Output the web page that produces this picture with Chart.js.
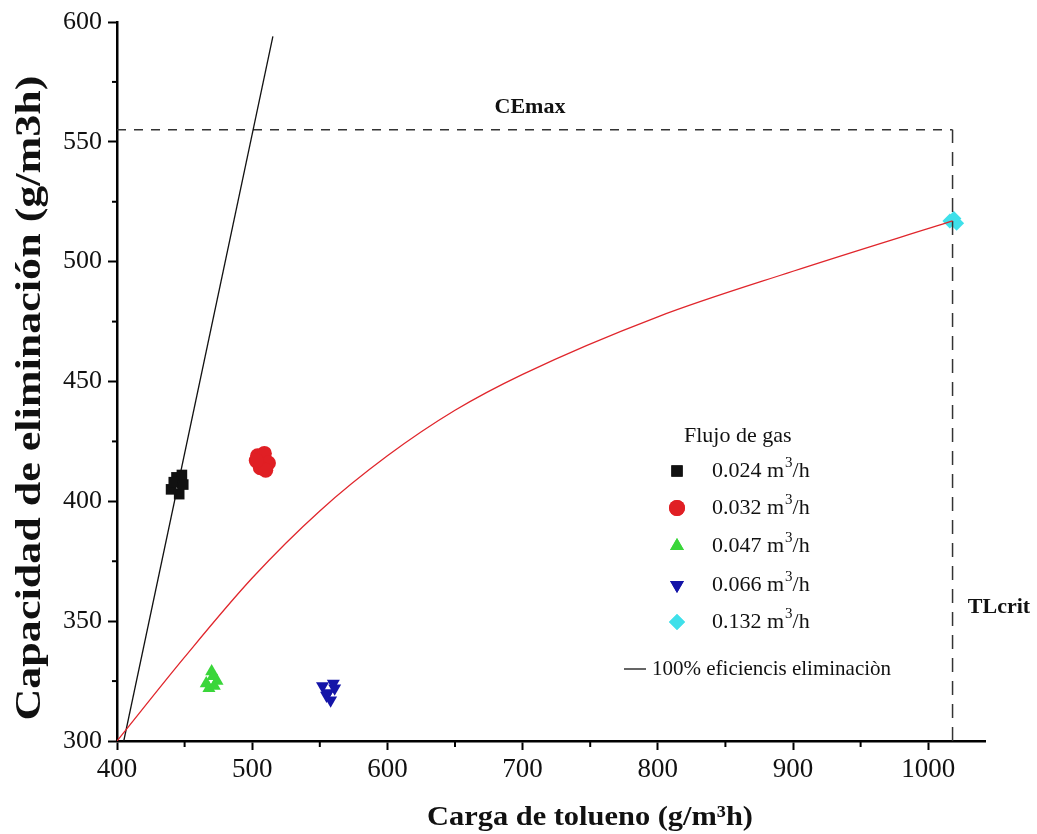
<!DOCTYPE html>
<html><head><meta charset="utf-8">
<script src="https://cdn.jsdelivr.net/npm/chart.js@4/dist/chart.umd.min.js"></script>
<style>html,body{margin:0;padding:0;background:#fff}#wrap{width:1037px;height:834px}</style>
</head><body><div id="wrap"><canvas id="c" width="1037" height="834"></canvas></div>
<script>
// ---- data ----
const blackX = [440, 444, 448, 446, 442, 449];
const blackY = [405, 410, 411, 403, 408, 407];
const redX = [504, 509, 512, 506, 510, 503];
const redY = [419, 420, 416, 414, 413, 417];
const greenX = [466, 470, 474, 468, 472, 471];
const greenY = [324, 329, 325, 322, 323, 327];
const blueX = [552, 556, 560, 558, 555, 561];
const blueY = [323, 320, 324, 317, 319, 322];
const cyanX = [1016, 1019, 1021];
const cyanY = [517, 518, 516];
const fitX = [400, 450, 500, 550, 600, 650, 700, 800, 900, 1018];
const fitY = [300, 335, 368, 396, 419, 438, 453, 477, 496, 517];
const effX = [405, 515.3];
const effY = [300, 594];
const ceMax = 555;
const tlCrit = 1018;
const xTicks = [400, 500, 600, 700, 800, 900, 1000];
const yTicks = [300, 350, 400, 450, 500, 550, 600];
const legendRates = ['0.024', '0.032', '0.047', '0.066', '0.132'];
const legendTitle = 'Flujo de gas';
const lineLabel = '100% eficiencis eliminaciòn';
const xTitle = 'Carga de tolueno (g/m³h)';
const yTitle = 'Capacidad de eliminación (g/m3h)';

const zip = (xs, ys) => xs.map((x, i) => ({x, y: ys[i]}));
const SERIF = '"Liberation Serif", "DejaVu Serif", serif';

const series = [
  {x: blackX, y: blackY, color: '#111111', style: 'rect', rot: 0},
  {x: redX, y: redY, color: '#e01f24', style: 'circle', rot: 0},
  {x: greenX, y: greenY, color: '#3ad63a', style: 'triangle', rot: 0},
  {x: blueX, y: blueY, color: '#1414a8', style: 'triangle', rot: 180},
  {x: cyanX, y: cyanY, color: '#3fe0ea', style: 'rectRot', rot: 0},
];

const datasets = [
  {type: 'line', data: zip(fitX, fitY), borderColor: '#e0262c', borderWidth: 1.3, pointRadius: 0, cubicInterpolationMode: 'monotone', fill: false},
  {type: 'line', data: zip(effX, effY), borderColor: '#111', borderWidth: 1.3, pointRadius: 0, fill: false},
  {type: 'line', data: [{x: 400, y: ceMax}, {x: tlCrit, y: ceMax}], borderColor: '#333', borderWidth: 1.5, borderDash: [9, 8], pointRadius: 0, fill: false},
  {type: 'line', data: [{x: tlCrit, y: 300}, {x: tlCrit, y: ceMax}], borderColor: '#333', borderWidth: 1.5, borderDash: [14, 9], pointRadius: 0, fill: false},
];
series.forEach(s => datasets.push({
  type: 'scatter', data: zip(s.x, s.y), backgroundColor: s.color, borderColor: s.color,
  pointStyle: s.style, rotation: s.rot, pointRadius: 7.5, borderWidth: 0
}));

const overlay = {
  id: 'overlay',
  afterDraw(chart) {
    const ctx = chart.ctx, xs = chart.scales.x, ys = chart.scales.y;
    ctx.save();
    ctx.strokeStyle = '#000'; ctx.lineWidth = 2;
    for (let v = 325; v < 600; v += 50) {
      const p = ys.getPixelForValue(v);
      ctx.beginPath(); ctx.moveTo(xs.left - 5, p); ctx.lineTo(xs.left, p); ctx.stroke();
    }
    for (let v = 450; v < 1040; v += 100) {
      const p = xs.getPixelForValue(v);
      ctx.beginPath(); ctx.moveTo(p, ys.bottom); ctx.lineTo(p, ys.bottom + 6); ctx.stroke();
    }
    function fitText(txt, cx, cy, width, font, rot) {
      ctx.save();
      ctx.font = font; ctx.fillStyle = '#111'; ctx.textAlign = 'center'; ctx.textBaseline = 'middle';
      const w = ctx.measureText(txt).width;
      ctx.translate(cx, cy); if (rot) ctx.rotate(rot);
      ctx.scale(width / w, 1);
      ctx.fillText(txt, 0, 0);
      ctx.restore();
    }
    fitText(yTitle, 31, 398, 645, 'bold 36px ' + SERIF, -Math.PI / 2);
    fitText(xTitle, 590, 818, 326, 'bold 28px ' + SERIF, 0);
    ctx.font = 'bold 22px ' + SERIF; ctx.fillStyle = '#111'; ctx.textBaseline = 'middle'; ctx.textAlign = 'center';
    ctx.fillText('CEmax', 530, 107);
    ctx.fillText('TLcrit', 999, 607);
    ctx.font = '22px ' + SERIF; ctx.textAlign = 'left';
    ctx.fillText(legendTitle, 684, 436);
    const rows = [471, 508, 546, 585, 622];
    series.forEach((s, i) => {
      ctx.fillStyle = s.color;
      Chart.helpers.drawPoint(ctx, {pointStyle: s.style, rotation: s.rot, radius: 8, borderWidth: 0}, 677, rows[i]);
      ctx.fill();
      ctx.fillStyle = '#111';
      ctx.font = '22px ' + SERIF;
      const t1 = legendRates[i] + ' m';
      ctx.fillText(t1, 712, rows[i]);
      let x = 712 + ctx.measureText(t1).width;
      ctx.font = '15px ' + SERIF;
      ctx.fillText('3', x + 1, rows[i] - 8);
      x += ctx.measureText('3').width + 1;
      ctx.font = '22px ' + SERIF;
      ctx.fillText('/h', x, rows[i]);
    });
    ctx.strokeStyle = '#111'; ctx.lineWidth = 1.3;
    ctx.beginPath(); ctx.moveTo(624, 669); ctx.lineTo(646, 669); ctx.stroke();
    ctx.font = '21px ' + SERIF;
    ctx.fillText(lineLabel, 652, 669);
    ctx.restore();
  }
};

new Chart(document.getElementById('c'), {
  data: {datasets},
  options: {
    responsive: false, animation: false,
    layout: {padding: {left: 0, top: 22, right: 52, bottom: 0}},
    plugins: {legend: {display: false}, tooltip: {enabled: false}},
    scales: {
      x: {
        type: 'linear', min: 400, max: 1042,
        afterBuildTicks: s => { s.ticks = xTicks.map(v => ({value: v})); },
        afterFit: s => { s.height = 93; },
        ticks: {color: '#111', font: {family: SERIF, size: 27}, padding: 4, maxRotation: 0, autoSkip: false, callback: v => String(v)},
        grid: {drawOnChartArea: false, color: '#000', tickLength: 9, tickWidth: 2},
        border: {color: '#000', width: 2.5}
      },
      y: {
        type: 'linear', min: 300, max: 600,
        afterBuildTicks: s => { s.ticks = yTicks.map(v => ({value: v})); },
        afterFit: s => { s.width = 117; },
        ticks: {color: '#111', font: {family: SERIF, size: 26}, padding: 6, autoSkip: false, callback: v => String(v)},
        grid: {drawOnChartArea: false, color: '#000', tickLength: 9, tickWidth: 2},
        border: {color: '#000', width: 2.5}
      }
    }
  },
  plugins: [overlay]
});
</script></body></html>
